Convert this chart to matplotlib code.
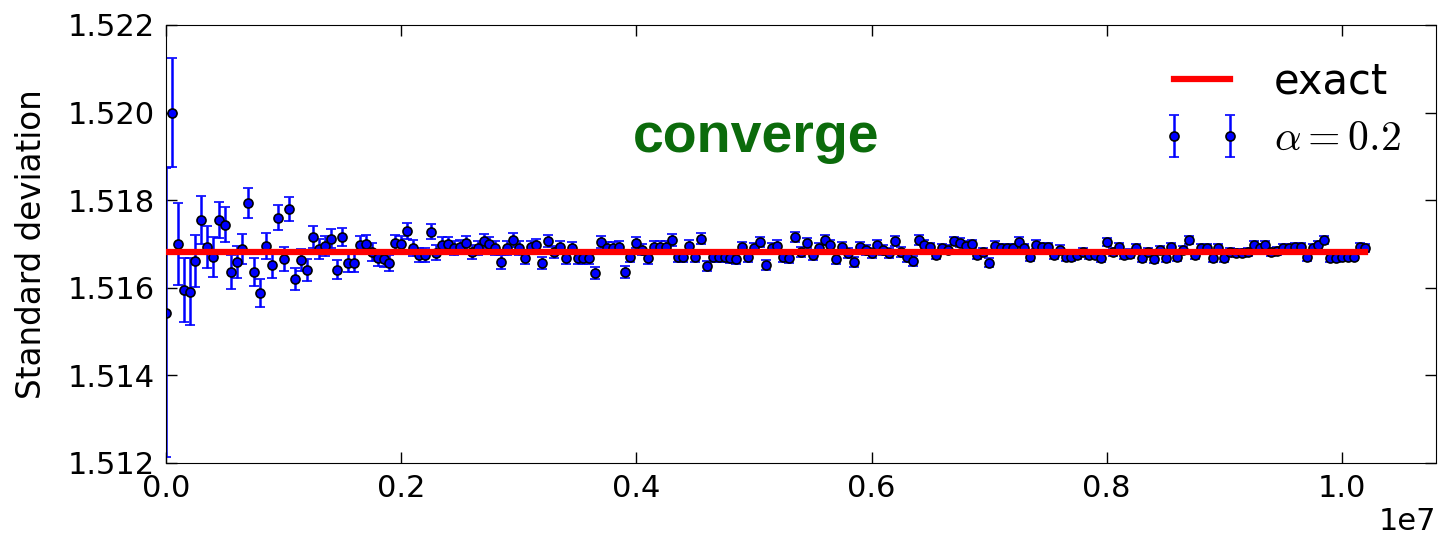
import numpy as np
import matplotlib
matplotlib.use("Agg")
from matplotlib import pyplot as plt

# Monte Carlo estimate of the standard deviation vs. number of samples
step = 5e4  # samples between two recorded estimates
std_est = [
    1.51543, 1.52000, 1.51700, 1.51595, 1.51591, 1.51661, 1.51755, 1.51693, 1.51671, 1.51755,
    1.51744, 1.51636, 1.51659, 1.51689, 1.51794, 1.51636, 1.51588, 1.51696, 1.51652, 1.51760,
    1.51666, 1.51780, 1.51620, 1.51664, 1.51641, 1.51716, 1.51689, 1.51696, 1.51712, 1.51641,
    1.51716, 1.51657, 1.51657, 1.51698, 1.51700, 1.51682, 1.51668, 1.51666, 1.51657, 1.51703,
    1.51700, 1.51730, 1.51691, 1.51675, 1.51675, 1.51728, 1.51680, 1.51698, 1.51700, 1.51691,
    1.51693, 1.51703, 1.51682, 1.51691, 1.51707, 1.51700, 1.51691, 1.51659, 1.51691, 1.51709,
    1.51691, 1.51668, 1.51693, 1.51698, 1.51657, 1.51707, 1.51682, 1.51693, 1.51668, 1.51691,
    1.51668, 1.51668, 1.51668, 1.51634, 1.51705, 1.51691, 1.51691, 1.51693, 1.51636, 1.51671,
    1.51703, 1.51687, 1.51668, 1.51693, 1.51693, 1.51693, 1.51709, 1.51671, 1.51671, 1.51696,
    1.51671, 1.51712, 1.51650, 1.51671, 1.51671, 1.51671, 1.51668, 1.51666, 1.51693, 1.51671,
    1.51691, 1.51705, 1.51652, 1.51691, 1.51696, 1.51671, 1.51668, 1.51716, 1.51682, 1.51703,
    1.51675, 1.51691, 1.51709, 1.51698, 1.51666, 1.51693, 1.51680, 1.51659, 1.51693, 1.51687,
    1.51680, 1.51698, 1.51687, 1.51680, 1.51707, 1.51682, 1.51671, 1.51661, 1.51709, 1.51698,
    1.51693, 1.51675, 1.51691, 1.51687, 1.51707, 1.51703, 1.51696, 1.51700, 1.51675, 1.51682,
    1.51657, 1.51696, 1.51691, 1.51691, 1.51691, 1.51705, 1.51691, 1.51671, 1.51698, 1.51693,
    1.51693, 1.51675, 1.51687, 1.51671, 1.51671, 1.51675, 1.51682, 1.51675, 1.51675, 1.51668,
    1.51705, 1.51682, 1.51693, 1.51675, 1.51678, 1.51691, 1.51668, 1.51682, 1.51666, 1.51687,
    1.51668, 1.51693, 1.51671, 1.51687, 1.51709, 1.51675, 1.51691, 1.51691, 1.51668, 1.51691,
    1.51668, 1.51682, 1.51680, 1.51680, 1.51682, 1.51698, 1.51691, 1.51698, 1.51682, 1.51684,
    1.51691, 1.51691, 1.51693, 1.51693, 1.51671, 1.51691, 1.51698, 1.51709, 1.51668, 1.51668,
    1.51671, 1.51671, 1.51671, 1.51693, 1.51691,
]
std_err = [
    0.00330, 0.00124, 0.00094, 0.00072, 0.00076, 0.00060, 0.00055, 0.00048, 0.00046, 0.00042,
    0.00040, 0.00038, 0.00036, 0.00034, 0.00034, 0.00032, 0.00031, 0.00030, 0.00029, 0.00028,
    0.00027, 0.00027, 0.00026, 0.00025, 0.00025, 0.00024, 0.00023, 0.00023, 0.00022, 0.00022,
    0.00021, 0.00021, 0.00021, 0.00020, 0.00020, 0.00020, 0.00019, 0.00019, 0.00019, 0.00018,
    0.00018, 0.00018, 0.00018, 0.00017, 0.00017, 0.00017, 0.00017, 0.00017, 0.00016, 0.00016,
    0.00016, 0.00016, 0.00016, 0.00015, 0.00015, 0.00015, 0.00015, 0.00015, 0.00015, 0.00015,
    0.00015, 0.00014, 0.00014, 0.00014, 0.00014, 0.00014, 0.00014, 0.00014, 0.00014, 0.00014,
    0.00014, 0.00014, 0.00013, 0.00013, 0.00013, 0.00013, 0.00013, 0.00013, 0.00013, 0.00013,
    0.00013, 0.00013, 0.00013, 0.00013, 0.00013, 0.00013, 0.00013, 0.00013, 0.00013, 0.00013,
    0.00012, 0.00012, 0.00012, 0.00012, 0.00012, 0.00012, 0.00012, 0.00012, 0.00012, 0.00012,
    0.00012, 0.00012, 0.00012, 0.00012, 0.00012, 0.00011, 0.00011, 0.00011, 0.00011, 0.00011,
    0.00011, 0.00011, 0.00011, 0.00011, 0.00011, 0.00011, 0.00011, 0.00011, 0.00011, 0.00011,
    0.00011, 0.00011, 0.00011, 0.00011, 0.00011, 0.00011, 0.00011, 0.00011, 0.00011, 0.00011,
    0.00010, 0.00010, 0.00010, 0.00010, 0.00010, 0.00010, 0.00010, 0.00010, 0.00010, 0.00010,
    0.00010, 0.00010, 0.00010, 0.00010, 0.00010, 0.00010, 0.00010, 0.00010, 0.00010, 0.00010,
    0.00010, 0.00010, 0.00010, 0.00010, 0.00010, 0.00010, 0.00010, 0.00010, 0.00010, 0.00010,
    0.000095, 0.000095, 0.000095, 0.000095, 0.000095, 0.000095, 0.000095, 0.000095, 0.000095, 0.000095,
    0.000095, 0.000095, 0.000095, 0.000095, 0.000095, 0.000095, 0.000095, 0.000095, 0.000095, 0.000095,
    0.000090, 0.000090, 0.000090, 0.000090, 0.000090, 0.000090, 0.000090, 0.000090, 0.000090, 0.000090,
    0.000090, 0.000090, 0.000090, 0.000090, 0.000090, 0.000085, 0.000085, 0.000085, 0.000085, 0.000085,
    0.000085, 0.000085, 0.000085, 0.000085, 0.000085,
]
exact_std = 1.51682
alpha = 0.2

n_samples = np.arange(len(std_est)) * step

plt.rcParams['mathtext.fontset'] = 'cm'
plt.rcParams['font.family'] = 'DejaVu Sans'

fig = plt.figure(figsize=(14.48, 5.45), dpi=100)
ax = fig.add_axes([166/1448, 1 - 463/545, (1436 - 166)/1448, (463 - 25)/545])

# exact value drawn on top of the estimates
ax.plot(n_samples, np.full_like(n_samples, exact_std), color='red', lw=4.5,
        zorder=3, label='exact')
ax.errorbar(n_samples, std_est, yerr=std_err, fmt='o', color='blue', ecolor='blue',
            mfc='blue', mec='black', mew=1.2, ms=6.5, elinewidth=1.8, capsize=3.5,
            capthick=1.8, zorder=2, label=rf'$\alpha={alpha}$')

ax.set_xlim(0, 1.08e7)
ax.set_ylim(1.512, 1.522)
ax.set_yticks(np.arange(1.512, 1.5221, 0.002))
ax.set_xticks(np.arange(0, 1.01e7, 0.2e7))
ax.yaxis.set_major_formatter(matplotlib.ticker.FormatStrFormatter('%.3f'))
ax.ticklabel_format(axis='x', style='sci', scilimits=(0, 0), useMathText=False)
ax.tick_params(direction='in', top=True, right=True, length=8, width=1,
               labelsize=22, pad=8)
ax.xaxis.get_offset_text().set_fontsize(22)
ax.set_ylabel('Standard deviation', fontsize=23.5, labelpad=14)

ax.legend(loc='upper right', frameon=False, numpoints=2, fontsize=30,
          handlelength=1.95, handletextpad=0.75, labelspacing=0.35,
          borderaxespad=0.3, bbox_to_anchor=(0.995, 0.985))

ax.text(0.465, 0.742, 'converge', transform=ax.transAxes, ha='center', va='center',
        fontsize=40, fontweight='bold', color='#0b6b0b', family='Liberation Sans')

fig.savefig('out.png', dpi=100)
